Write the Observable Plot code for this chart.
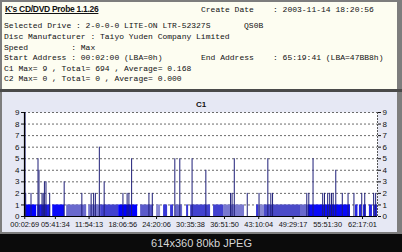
<!DOCTYPE html>
<html><head><meta charset="utf-8">
<script src="https://cdn.jsdelivr.net/npm/d3@7"></script>
<script src="https://cdn.jsdelivr.net/npm/@observablehq/plot@0.6"></script>
<style>
body{margin:0;width:402px;height:252px;background:#0b0b0b;position:relative;overflow:hidden;font-family:"Liberation Sans",Arial,sans-serif}
#frame{position:absolute;left:0;top:0;width:402px;height:234px;background:#7d7d7d}
#top{position:absolute;left:2px;top:2px;width:395px;height:87px;background:#fdfdf1}
#sep{position:absolute;left:0;top:89px;width:402px;height:3px;background:#4a4a4a}
#bottom{position:absolute;left:2px;top:92px;width:395px;height:140px;background:#e6e8f4}
.mono{position:absolute;font:8px "Liberation Mono",monospace;white-space:pre;color:#111;line-height:10px}
#title{position:absolute;left:5px;top:4px;font:bold 8.5px "Liberation Sans",sans-serif;text-decoration:underline;color:#111;letter-spacing:-0.3px;line-height:10px}
#c1{position:absolute;left:0;top:100px;width:402px;text-align:center;font:bold 8px "Liberation Sans",sans-serif;color:#111;line-height:10px}
#chart{position:absolute;left:0;top:93px}
#foot{position:absolute;left:0;top:236px;width:403px;text-align:center;font:11px "Liberation Sans",sans-serif;color:#d6d6d6;line-height:14px}
</style></head>
<body>
<div id="frame"></div><div id="top"></div><div id="sep"></div><div id="bottom"></div>
<div id="title">K's CD/DVD Probe 1.1.26</div>
<div class="mono" style="left:201px;top:5px">Create Date    : 2003-11-14 18:20:56</div>
<div class="mono" style="left:4px;top:21px">Selected Drive : 2-0-0-0 LITE-ON LTR-52327S       QS0B</div>
<div class="mono" style="left:4px;top:31.5px">Disc Manufacturer : Taiyo Yuden Company Limited</div>
<div class="mono" style="left:4px;top:42.5px">Speed         : Max</div>
<div class="mono" style="left:4px;top:53px">Start Address : 00:02:00 (LBA=0h)</div>
<div class="mono" style="left:201px;top:53px">End Address    : 65:19:41 (LBA=47BB8h)</div>
<div class="mono" style="left:4px;top:63.5px">C1 Max= 9 , Total= 694 , Average= 0.168</div>
<div class="mono" style="left:4px;top:74px">C2 Max= 0 , Total= 0 , Average= 0.000</div>
<div id="c1">C1</div>
<div id="chart"></div>
<div id="foot">614x360 80kb JPEG</div>
<script>
// x tick labels (mm:ss:ff)
const xTickLabels = ["00:02:69","05:41:34","11:54:13","18:06:56","24:20:06","30:35:38","36:51:50","43:10:04","49:29:17","55:51:30","62:17:01"];
const yTicks = [0,1,2,3,4,5,6,7,8,9];
const xDomain = [0, 65.05]; // minutes
// C1 spikes (time in minutes, C1 count)
const spikeTime = [0.1,0.22,1.20,2.49,2.67,3.23,3.45,3.67,3.96,4.64,7.31,10.57,12.28,12.74,13.06,13.79,14.68,18.14,18.91,19.24,19.74,22.93,23.55,27.70,28.62,30.88,33.42,37.97,38.25,38.66,41.05,43.22,44.84,45.39,45.71,52.02,52.39,53.17,54.95,55.28,55.87,56.24,56.57,56.88,57.36,58.56,59.62,60.71,62.15,62.70,64.34,64.71];
const spikeC1   = [9,2,2,5,4,2,2,3,3,2,3,2,2,2,2,6,3,2,2,2,5,2,2,5,5,5,4,2,2,5,2,2,5,2,2,2,2,5,2,2,2,2,2,2,4,2,2,2,2,2,2,2];
// base level C1 = 1 runs (start, end in minutes) and share of samples at that level
const baseStart   = [0.04,2.43,5.20,7.77,11.82,14.03,17.35,21.40,24.34,25.63,26.92,27.84,29.87,30.61,34.84,36.68,42.76,43.13,44.23,50.86,52.33,60.99,61.72,62.46,63.56,64.49];
const baseEnd     = [2.25,4.83,7.41,11.46,14.03,17.35,20.85,23.79,25.08,26.37,27.47,29.13,30.24,34.29,36.68,40.55,43.13,44.23,50.86,52.33,60.07,61.45,62.18,63.01,64.12,65.04];
const baseDensity = [1.0,0.85,0.95,0.5,0.45,0.65,1.0,0.55,0.4,0.7,0.7,0.5,0.7,0.65,0.65,0.45,0.7,0.4,0.6,0.5,0.95,0.8,0.8,0.8,0.8,0.8];
const baseLevel = 1;

const labelOf = new Map();
const xTickVals = xTickLabels.map(s => {
  const [m, sec, f] = s.split(":").map(Number);
  const v = m + sec / 60 + f / 75 / 60;
  labelOf.set(v, s);
  return v;
});
const spikes = spikeTime.map((t, i) => ({t, v: spikeC1[i]}));
const runs = baseStart.map((s, i) => ({s, e: baseEnd[i], d: baseDensity[i]}));
const shade = d3.scaleLinear().domain([0.3, 0.6, 1]).range(["#a8a8d8", "#4a4ac8", "#0000ff"]);

const chart = Plot.plot({
  width: 402, height: 140,
  marginLeft: 24, marginRight: 25, marginTop: 19, marginBottom: 17,
  style: {background: "transparent", fontFamily: "Liberation Sans, Arial, sans-serif", fontSize: "8px", color: "#111"},
  x: {domain: xDomain},
  y: {domain: [0, 9]},
  marks: [
    Plot.frame({fill: "white", stroke: null}),
    Plot.ruleY(yTicks.slice(1), {stroke: "#6a6a6a", strokeDasharray: "2,2", strokeWidth: 1}),
    Plot.rectY(runs, {x1: "s", x2: "e", y1: 0, y2: () => baseLevel, fill: d => shade(d.d)}),
    Plot.ruleX(spikes, {x: "t", y1: 0, y2: "v", stroke: "#1e1e78", strokeWidth: 1}),
    Plot.ruleX([xDomain[1]], {stroke: "#555", strokeDasharray: "2,1"}),
    Plot.ruleX([xDomain[0]], {stroke: "#000", strokeWidth: 1.2}),
    Plot.ruleY([0], {stroke: "#000", strokeWidth: 1.2}),
    Plot.axisY({anchor: "left", ticks: yTicks, tickSize: 3, tickPadding: 2, label: null, fontSize: 8}),
    Plot.axisY({anchor: "right", ticks: yTicks, tickSize: 3, tickPadding: 2, label: null, fontSize: 8}),
    Plot.axisX({ticks: xTickVals, tickSize: 3, tickPadding: 2, label: null, fontSize: 7.4, tickFormat: d => labelOf.get(d)})
  ]
});
document.getElementById("chart").appendChild(chart);
</script>
</body></html>
